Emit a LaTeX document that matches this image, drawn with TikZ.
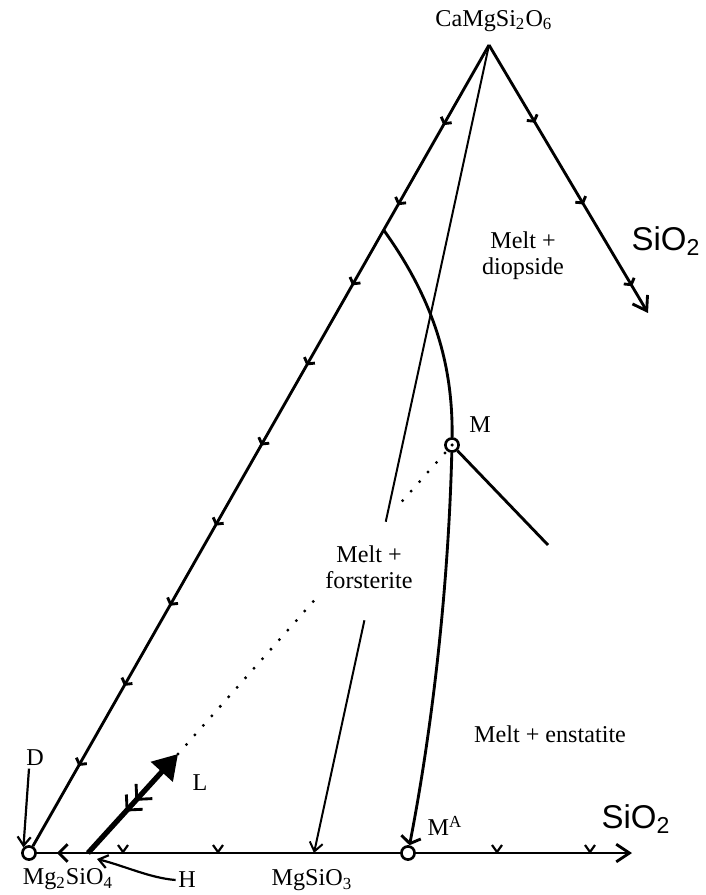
\documentclass[tikz,border=0pt]{standalone}
\usepackage{fontspec}
\setmainfont{Liberation Serif}
\newfontfamily\sioxfont{Liberation Sans}
\usetikzlibrary{arrows.meta,calc,decorations.markings}

\begin{document}
\begin{tikzpicture}[x=0.016cm,y=-0.016cm,
  >={Straight Barb[length=6pt,width=8pt]},
  flowtip/.tip={Straight Barb[length=2pt,width=5.5pt]},
  edge/.style={line width=1.3pt},
  tie/.style={line width=0.9pt},
  dotline/.style={line width=1.5pt,line cap=round,dash pattern=on 0pt off 5.8pt},
  opendot/.style={circle,draw,line width=1.2pt,fill=white,inner sep=0pt,minimum size=6pt},
  lbl/.style={font=\fontsize{11}{12}\selectfont,align=center,inner sep=1pt},
  oxide/.style={font=\sioxfont\fontsize{15}{17}\selectfont,inner sep=1pt}]
  \useasboundingbox (0,0) rectangle (705,895);

  % Corners of the projection and invariant points.
  \coordinate (Di) at (489,45);
  \node[opendot] (Fo) at (29,853) {};
  \node[opendot] (MA) at (408,853) {};
  \node[opendot] (M) at (452,445) {};
  \fill (M.center) circle[radius=0.8pt];
  \coordinate (En) at (314,853);
  \coordinate (Qb) at (632,853);
  \coordinate (Qr) at (648,313);
  \coordinate (Mq) at (548,545);
  \coordinate (H) at (88,853);
  \coordinate (L) at (178,754);
  \coordinate (Pd) at ($(Fo)!0.771!(Di)$);

  % Joins Di--Fo and Di--SiO2, with falling-temperature marks.
  \draw[edge,decoration={markings,
      mark=between positions 0.1 and 0.95 step 0.1 with {\arrow{flowtip}}},
    postaction={decorate}] (Di) -- (Fo);
  \draw[edge,->,decoration={markings,
      mark=at position 0.29 with {\arrow{flowtip}},
      mark=at position 0.595 with {\arrow{flowtip}},
      mark=at position 0.9 with {\arrow{flowtip}}},
    postaction={decorate}] (Di) -- (Qr);

  % Fo--SiO2 join.
  \draw[edge,decoration={markings,
      mark=at position 0.055 with {\arrowreversed{Straight Barb[length=4pt,width=8pt]}}},
    postaction={decorate}] (Fo) -- (MA);
  \draw[edge,->] (MA) -- (Qb);
  \foreach \x in {123,218,497,590} {
    \draw[line width=1pt] (\x-5,845) -- (\x,852) -- (\x+5,845);
  }

  % Cotectic boundaries.
  \draw[edge] (Pd) .. controls (434,300) and (453,365) .. (M);
  \draw[edge,->,>={Straight Barb[length=3pt,width=9pt]}] (M) .. controls (448,600) and (430,740) .. (MA);
  \draw[edge] (M) -- (Mq);

  % Di--En tie line, broken for the label.
  \draw[tie] (Di) -- ($(Di)!0.59!(En)$);
  \draw[tie,->,>={Straight Barb[length=4pt,width=6pt]}] ($(Di)!0.712!(En)$) -- (En);

  % Crystallisation path from L.
  \draw[dotline] (L) -- ($(L)!0.5!(M)$);
  \draw[dotline] ($(L)!0.82!(M)$) -- (M);
  \draw[line width=2.4pt,-{Triangle[length=11pt,width=13pt]},decoration={markings,
      mark=at position 0.42 with {\arrowreversed{Straight Barb[length=5pt,width=10pt,line width=1.3pt] Straight Barb[length=5pt,width=10pt,line width=1.3pt]}}},
    postaction={decorate}] (H) -- (L);

  % Labels.
  \node[lbl] at (494,21) {CaMgSi\textsubscript{2}O\textsubscript{6}};
  \node[lbl] at (523,256) {Melt +\\diopside};
  \node[lbl] at (369,567) {Melt +\\forsterite};
  \node[lbl] at (550,734) {Melt + enstatite};
  \node[lbl] at (480,425) {M};
  \node[lbl] at (445,826) {M\textsuperscript{A}};
  \node[lbl] at (200,783) {L};
  \node[lbl] at (68,879) {Mg\textsubscript{2}SiO\textsubscript{4}};
  \node[lbl] at (312,880) {MgSiO\textsubscript{3}};
  \node[oxide] at (666,241) {SiO\textsubscript{2}};
  \node[oxide] at (636,819) {SiO\textsubscript{2}};

  \node[lbl] (Dl) at (35,758) {D};
  \draw[line width=1pt,->,>={Straight Barb[length=4pt,width=6pt]}] ($(Dl.south)+(-6,0)$) -- (Fo.north west);
  \node[lbl] (Hl) at (187,880) {H};
  \coordinate (Ht) at (97,859);
  \draw[line width=1pt,->,>={Straight Barb[length=4pt,width=6pt]}]
    (Hl.west) .. controls (150,878) and (125,866) .. (Ht);
\end{tikzpicture}
\end{document}
